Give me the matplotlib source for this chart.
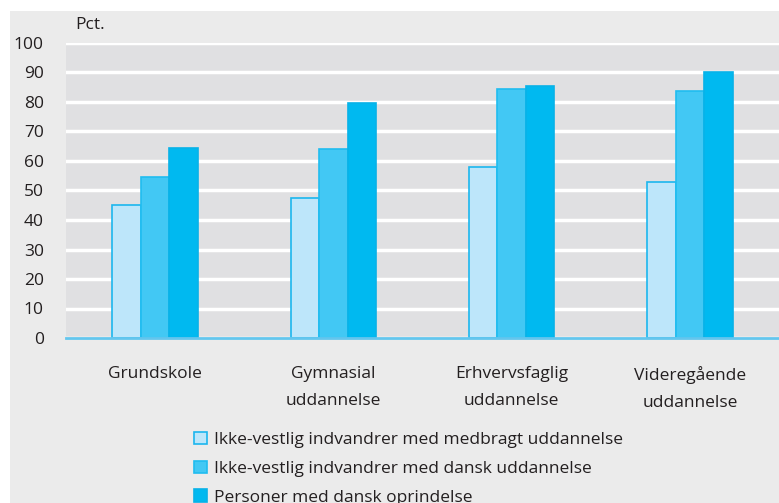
import matplotlib.pyplot as plt
import matplotlib.patches as mpatches
import numpy as np

plt.rcParams['font.family'] = ['Open Sans', 'DejaVu Sans']

categories = ['Grundskole', 'Gymnasial\nuddannelse', 'Erhvervsfaglig\nuddannelse',
              'Videregående\nuddannelse']
series_names = ['Ikke-vestlig indvandrer med medbragt uddannelse',
                'Ikke-vestlig indvandrer med dansk uddannelse',
                'Personer med dansk oprindelse']
medbragt = [45.0, 47.5, 58.0, 53.0]
dansk_udd = [54.5, 64.0, 84.5, 83.8]
dansk_opr = [64.3, 79.8, 85.3, 90.1]
colors = ['#bde6fa', '#42c8f4', '#00b9f0']
edges = ['#1cb6ee', '#20bdf0', '#08b2e8']

fig = plt.figure(figsize=(7.79, 5.03), dpi=100, facecolor='white')
# grey panel with a thin white border top and left
fig.patches.append(mpatches.Rectangle((10 / 779, 0), 1, (503 - 11) / 503,
                                      transform=fig.transFigure,
                                      facecolor='#ebebeb', edgecolor='none', zorder=-10))
ax = fig.add_axes([66 / 779, (503 - 338) / 503, 1 - 66 / 779, (338 - 43) / 503])
ax.set_facecolor('#e0e0e2')

x = np.arange(len(categories))
w = 0.16
for i, vals in enumerate([medbragt, dansk_udd, dansk_opr]):
    ax.bar(x + (i - 1) * w, vals, w, color=colors[i], edgecolor=edges[i],
           linewidth=1.2, label=series_names[i], zorder=3)

ax.set_ylim(0, 100)
ax.set_xlim(-0.5, 3.5)
ax.set_yticks(range(0, 101, 10))
ax.yaxis.grid(True, color='white', linewidth=2.5, zorder=1)
ax.set_axisbelow(True)
for s in ['top', 'right', 'left']:
    ax.spines[s].set_visible(False)
ax.spines['bottom'].set_color('#63c6ee')
ax.spines['bottom'].set_linewidth(2)
ax.spines['bottom'].set_zorder(4)
ax.tick_params(length=0, labelsize=12.5, colors='#231f20')
ax.tick_params(axis='y', pad=16)
ax.tick_params(axis='x', pad=20)
ax.set_xticks(x)
ax.set_xticklabels(categories, linespacing=1.9)

fig.text(75 / 779, 1 - 25 / 503, 'Pct.', fontsize=12.5, color='#231f20', va='center')

fig.legend(loc='upper left', bbox_to_anchor=(178 / 779, 1 - 416 / 503), frameon=False,
           fontsize=12.5, handlelength=0.75, handleheight=0.75, handletextpad=0.4,
           labelspacing=0.72, labelcolor='#231f20')

fig.savefig('out.png', dpi=100, facecolor='white')
